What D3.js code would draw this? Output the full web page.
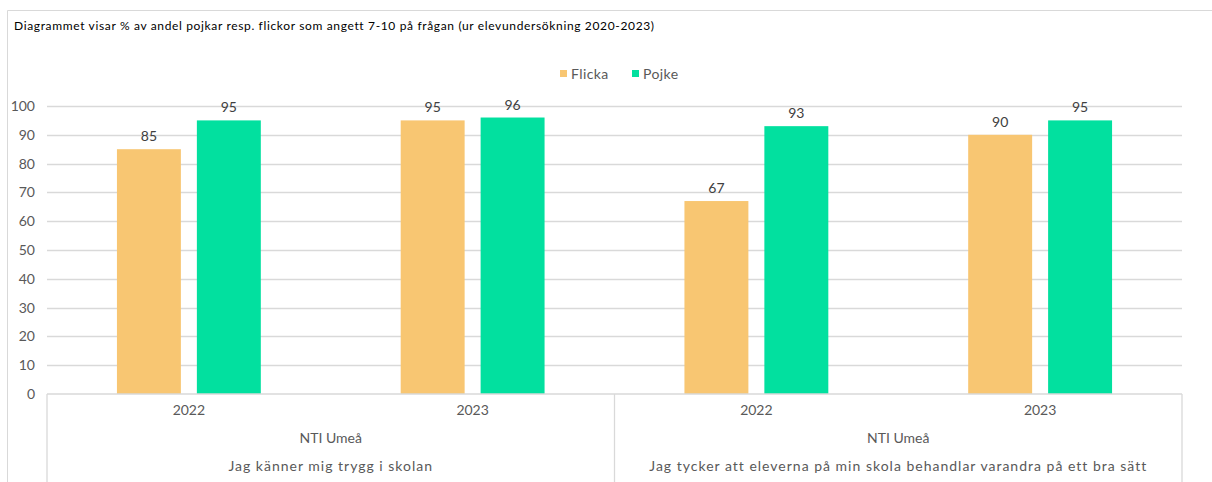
<!DOCTYPE html>
<html>
<head>
<meta charset="utf-8">
<script src="https://cdn.jsdelivr.net/npm/d3@7"></script>
<style>
  body { margin: 0; background: #fff; }
  svg { font-family: Lato, "DejaVu Sans", sans-serif; }
</style>
</head>
<body>
<svg></svg>
<script>
const size = {w: 1212, h: 482};
const margin = {t: 106, r: 30, b: 88, l: 47};

// data
const questions = ['Jag känner mig trygg i skolan', 'Jag tycker att eleverna på min skola behandlar varandra på ett bra sätt'];
const school = 'NTI Umeå';
const years = ['2022', '2023'];
const series = ['Flicka', 'Pojke'];
const colors = ['#F8C672', '#02E09F'];
const flicka = [85, 95, 67, 90];
const pojke = [95, 96, 93, 95];
const yTicks = [0, 10, 20, 30, 40, 50, 60, 70, 80, 90, 100];
const title = 'Diagrammet visar % av andel pojkar resp. flickor som angett 7-10 på frågan (ur elevundersökning 2020-2023)';

const svg = d3.select('svg').attr('width', size.w).attr('height', size.h);

// frame
svg.append('line').attr('x1', 7.5).attr('x2', size.w).attr('y1', 10.5).attr('y2', 10.5)
    .attr('stroke', '#d9d9d9');
svg.append('line').attr('x1', 7.5).attr('x2', 7.5).attr('y1', 10.5).attr('y2', size.h)
    .attr('stroke', '#d9d9d9');

svg.append('text').attr('x', 14).attr('y', 30)
    .attr('font-size', 12).attr('letter-spacing', 0.65).attr('fill', '#000')
    .text(title);

// categories: question x year
const cats = [];
questions.forEach((q, qi) => years.forEach((y, yi) => cats.push({q: qi, year: y, i: qi * years.length + yi})));

const plotW = size.w - margin.l - margin.r;
const x = d3.scaleBand().domain(cats.map(d => d.i)).range([margin.l, margin.l + plotW]);
const x1 = d3.scaleBand().domain(series).range([0, x.bandwidth()]).paddingInner(0.2).paddingOuter(0.875);
const y = d3.scaleLinear().domain([0, 100]).range([size.h - margin.b, margin.t]);

// grid
const grid = svg.append('g');
grid.selectAll('line').data(yTicks.slice(1)).enter().append('line')
    .attr('x1', margin.l).attr('x2', margin.l + plotW)
    .attr('y1', d => Math.round(y(d)) + 0.5).attr('y2', d => Math.round(y(d)) + 0.5)
    .attr('stroke', '#d9d9d9').attr('stroke-width', 1.3);

// y labels
const yAxis = svg.append('g').attr('transform', `translate(${margin.l - 10},0)`)
    .call(d3.axisLeft(y).tickValues(yTicks).tickSize(0).tickPadding(2));
yAxis.select('.domain').remove();
yAxis.selectAll('text').attr('font-size', 14).attr('fill', '#595959').attr('font-family', 'Lato, sans-serif');

// bars
const vals = [flicka, pojke];
const barG = svg.append('g');
series.forEach((s, si) => {
    barG.selectAll('.bar' + si).data(cats).enter().append('rect')
        .attr('x', d => x(d.i) + x1(s))
        .attr('width', x1.bandwidth())
        .attr('y', d => y(vals[si][d.i]))
        .attr('height', d => y(0) - y(vals[si][d.i]))
        .attr('fill', colors[si]);
    barG.selectAll('.lab' + si).data(cats).enter().append('text')
        .attr('x', d => x(d.i) + x1(s) + x1.bandwidth() / 2)
        .attr('y', d => y(vals[si][d.i]) - 8)
        .attr('text-anchor', 'middle')
        .attr('font-size', 14).attr('fill', '#404040')
        .text(d => vals[si][d.i]);
});

// category axis
const base = y(0);
const axG = svg.append('g').attr('stroke', '#d9d9d9').attr('stroke-width', 1.3);
axG.append('line').attr('x1', margin.l).attr('x2', margin.l + plotW).attr('y1', base).attr('y2', base);
const seps = [0, years.length, cats.length];
seps.forEach(k => {
    const xx = k < cats.length ? x(k) : x(cats.length - 1) + x.bandwidth();
    axG.append('line').attr('x1', xx).attr('x2', xx).attr('y1', base).attr('y2', size.h);
});

svg.selectAll('.yr').data(cats).enter().append('text')
    .attr('x', d => x(d.i) + x.bandwidth() / 2).attr('y', base + 21)
    .attr('text-anchor', 'middle').attr('font-size', 14).attr('fill', '#595959')
    .text(d => d.year);

questions.forEach((q, qi) => {
    const cx = (x(qi * years.length) + x(qi * years.length + years.length - 1) + x.bandwidth()) / 2;
    svg.append('text').attr('x', cx).attr('y', base + 49)
        .attr('text-anchor', 'middle').attr('font-size', 14).attr('fill', '#595959').text(school);
    svg.append('text').attr('x', cx).attr('y', base + 77)
        .attr('text-anchor', 'middle').attr('font-size', 14).attr('letter-spacing', 1)
        .attr('fill', '#595959').text(q);
});

// legend
const leg = svg.append('g');
const legX = [560, 632];
series.forEach((s, si) => {
    leg.append('rect').attr('x', legX[si]).attr('y', 70).attr('width', 7).attr('height', 7).attr('fill', colors[si]);
    leg.append('text').attr('x', legX[si] + 11).attr('y', 79)
        .attr('font-size', 14).attr('letter-spacing', 0.4).attr('fill', '#595959').text(s);
});
</script>
</body>
</html>
